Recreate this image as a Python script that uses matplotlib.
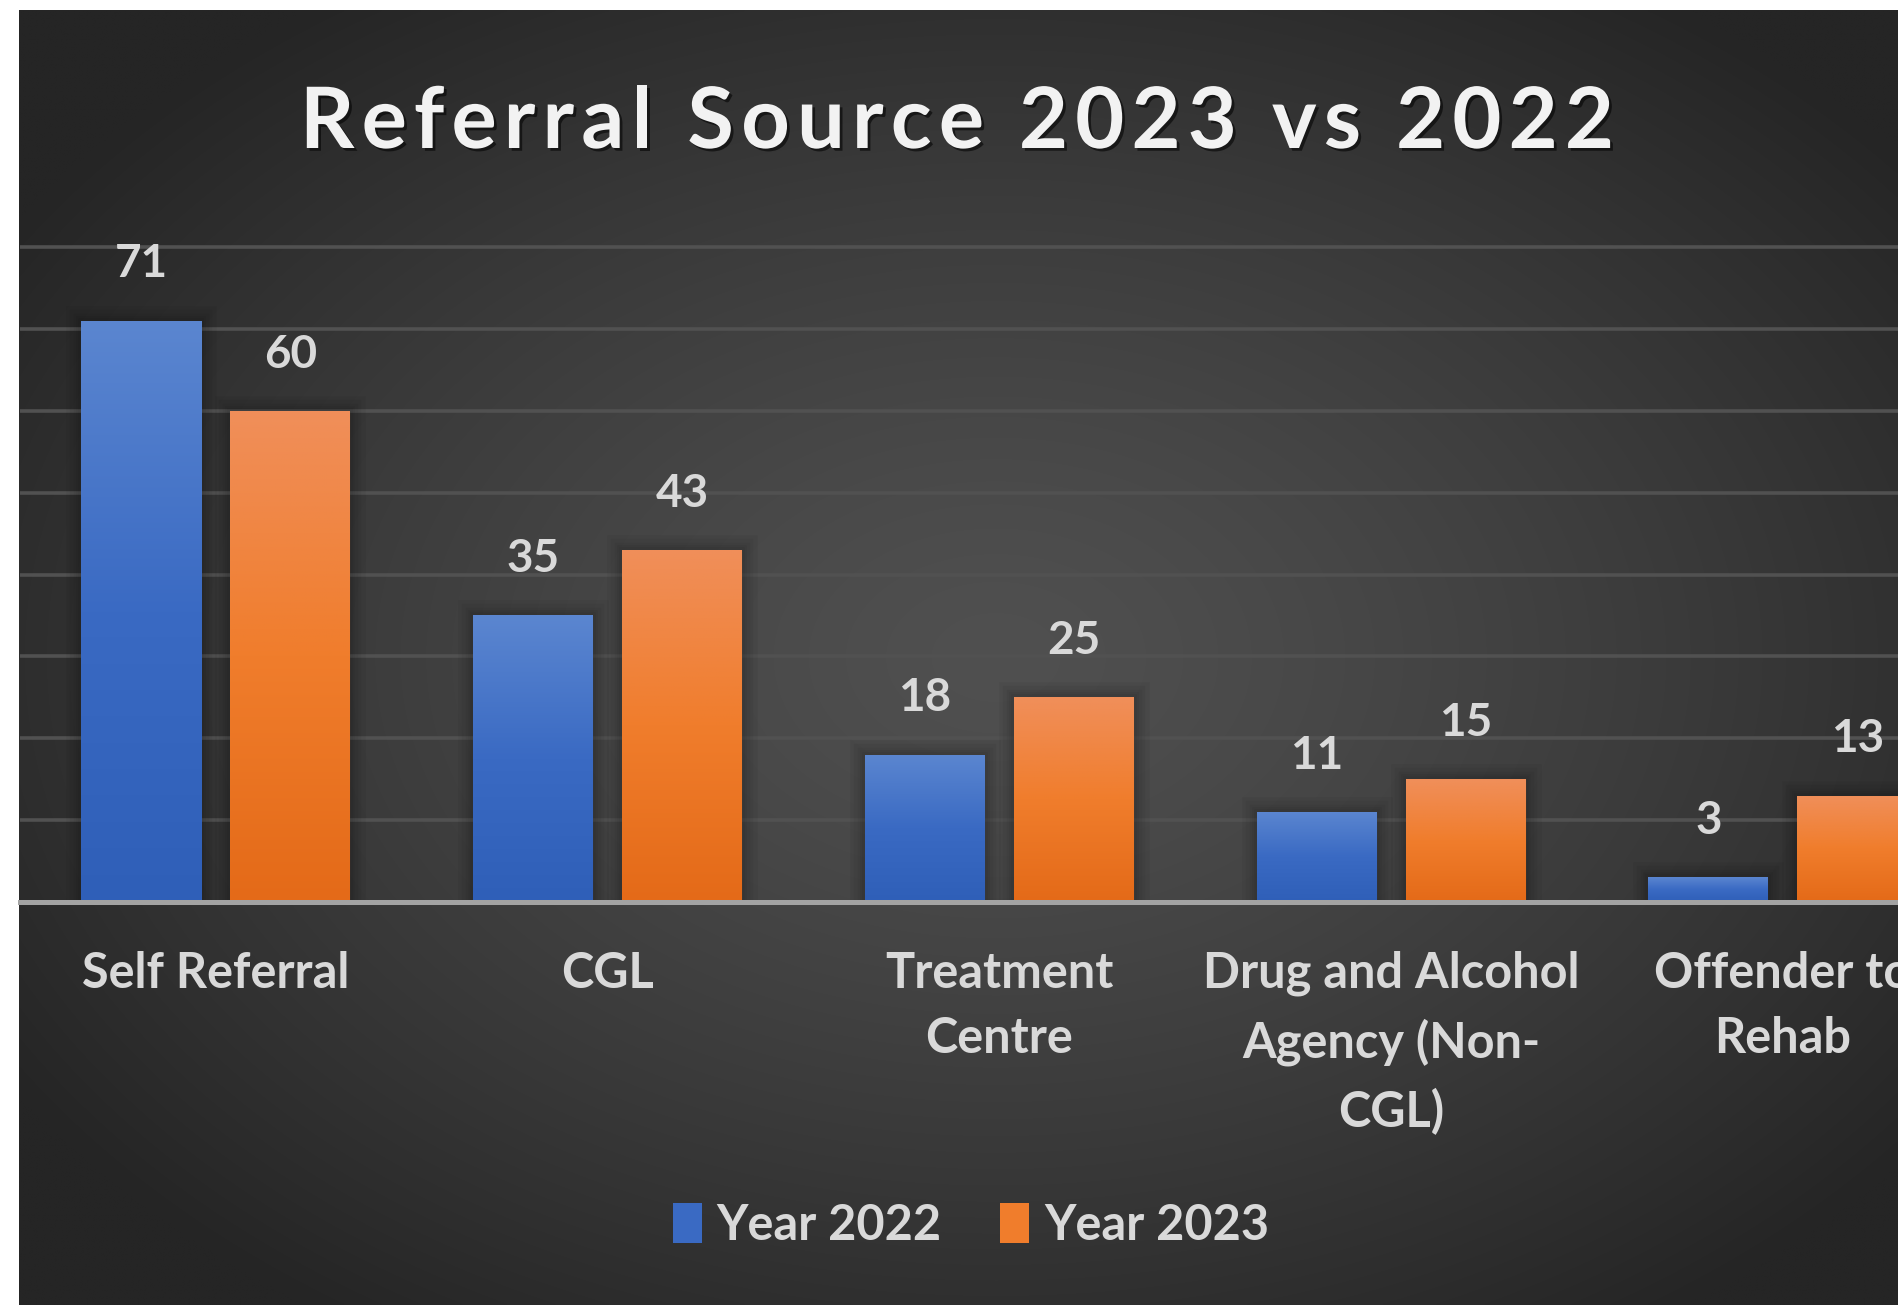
import numpy as np
import matplotlib
matplotlib.use("Agg")
import matplotlib.pyplot as plt
import matplotlib.patheffects as pe
from matplotlib.patches import Rectangle
from matplotlib.colors import LinearSegmentedColormap

# ---------------- data ----------------
categories = ["Self Referral", "CGL", "Treatment\nCentre",
              "Drug and Alcohol\nAgency (Non-\nCGL)", "Offender to\nRehab"]
year_2022 = [71, 35, 18, 11, 3]
year_2023 = [60, 43, 25, 15, 13]
series_labels = ["Year 2022", "Year 2023"]
title_text = "Referral Source 2023 vs 2022"
grid_ticks = [0, 10, 20, 30, 40, 50, 60, 70, 80]

# ---------------- layout ----------------
W, H = 1898, 1305
DPI = 100
FONT = "Lato"
TXT = "#d9d9d9"

fig = plt.figure(figsize=(W / DPI, H / DPI), dpi=DPI)
fig.patch.set_facecolor("white")

# background panel with radial gradient
bg = fig.add_axes([19 / W, 0, 1 - 19 / W, 1 - 10 / H])
bg.set_axis_off()
yy, xx = np.mgrid[0:1:500j, 0:1:700j]
r = np.sqrt(((xx - 0.52) / 0.62) ** 2 + ((yy - 0.5) / 0.62) ** 2)
r = np.clip(r, 0, 1)
val = 80 - (80 - 37) * r ** 1.3
img = np.dstack([val, val, val]) / 255.0
bg.imshow(img, extent=(0, 1, 0, 1), aspect="auto", origin="lower",
          interpolation="bilinear")
bg.set_xlim(0, 1)
bg.set_ylim(0, 1)

# plot axes
base_px = 902.0
px_per_unit = (902.0 - 247.0) / 80.0
ytop = 82
ax_top_px = base_px - ytop * px_per_unit
ax = fig.add_axes([20 / W, 1 - base_px / H, 1 - 20 / W, (base_px - ax_top_px) / H])
ax.patch.set_alpha(0)
for s in ax.spines.values():
    s.set_visible(False)

x = np.arange(len(categories))
group_px = 391.75
bw = 120 / group_px
off = 149 / group_px / 2

blue_cmap = LinearSegmentedColormap.from_list(
    "b", ["#2f5fb8", "#3a6ac3", "#5b86d0"])
orange_cmap = LinearSegmentedColormap.from_list(
    "o", ["#e46a18", "#f07d2c", "#f08f5a"])

shadow = [pe.Stroke(linewidth=w, foreground="black", alpha=0.045)
          for w in (22, 16, 11, 7, 4)] + [pe.Normal()]

grad = np.linspace(0, 1, 256).reshape(-1, 1)
for vals, offs, cmap, base in ((year_2022, -off, blue_cmap, "#3a6ac3"),
                               (year_2023, off, orange_cmap, "#f07d2c")):
    bars = ax.bar(x + offs, vals, width=bw, color=base, zorder=3,
                  linewidth=0)
    for b in bars:
        b.set_path_effects(shadow)
        x0, w, h = b.get_x(), b.get_width(), b.get_height()
        im = ax.imshow(grad, extent=(x0, x0 + w, 0, h), aspect="auto",
                       origin="lower", cmap=cmap, zorder=4,
                       interpolation="bilinear")
        im.set_clip_path(b)
        ax.annotate(str(int(h)), (x0 + w / 2, h), xytext=(0, 40.5),
                    textcoords="offset points", ha="center", va="center",
                    fontsize=33, color=TXT, fontweight="bold", family=FONT,
                    zorder=6)

ax.set_xlim(-0.5, -0.5 + (W - 20) / group_px)
ax.set_ylim(0, ytop)
ax.set_yticks(grid_ticks)
ax.set_yticklabels([])
ax.yaxis.grid(True, color="#515151", linewidth=2.6, zorder=0)
ax.set_axisbelow(True)
ax.tick_params(axis="y", length=0)
ax.tick_params(axis="x", length=0, pad=35)
ax.set_xticks(x)
ax.set_xticklabels(categories, fontsize=35, color=TXT, fontweight="bold",
                   family=FONT, linespacing=1.56)
ax.axhline(0, color="#a3a3a3", linewidth=3.6, zorder=5, clip_on=False)

# title with letter spacing
renderer = fig.canvas.get_renderer()
tprops = dict(fontsize=61, fontweight="bold", family=FONT, color="#f2f2f2")
def text_width(s):
    t = fig.text(0, 0, s, **tprops)
    w = t.get_window_extent(renderer).width
    t.remove()
    return w
natural = text_width(title_text)
target_w = 1314.0
spacing = (target_w - natural) / (len(title_text) - 1)
start_px = 300.0
title_base_px = 148.0
tpe = [pe.SimplePatchShadow(offset=(2, -2), shadow_rgbFace="black", alpha=0.55),
       pe.Normal()]
for i, ch in enumerate(title_text):
    if ch == " ":
        continue
    px = start_px + text_width(title_text[:i]) + i * spacing if i > 0 else start_px
    fig.text(px / W, 1 - title_base_px / H, ch, ha="left", va="baseline",
             path_effects=tpe, **tprops)

# legend
handles = [Rectangle((0, 0), 1, 1, facecolor="#3a6ac3"),
           Rectangle((0, 0), 1, 1, facecolor="#f07d2c")]
leg = fig.legend(handles, series_labels, loc="center",
                 bbox_to_anchor=(971 / W, 1 - 1225 / H), ncol=2, frameon=False,
                 prop=dict(family=FONT, weight="bold", size=35),
                 handlelength=0.6, handleheight=0.9, handletextpad=0.3,
                 columnspacing=1.2)
for t in leg.get_texts():
    t.set_color(TXT)

fig.savefig("out.png", dpi=DPI, facecolor=fig.get_facecolor())
